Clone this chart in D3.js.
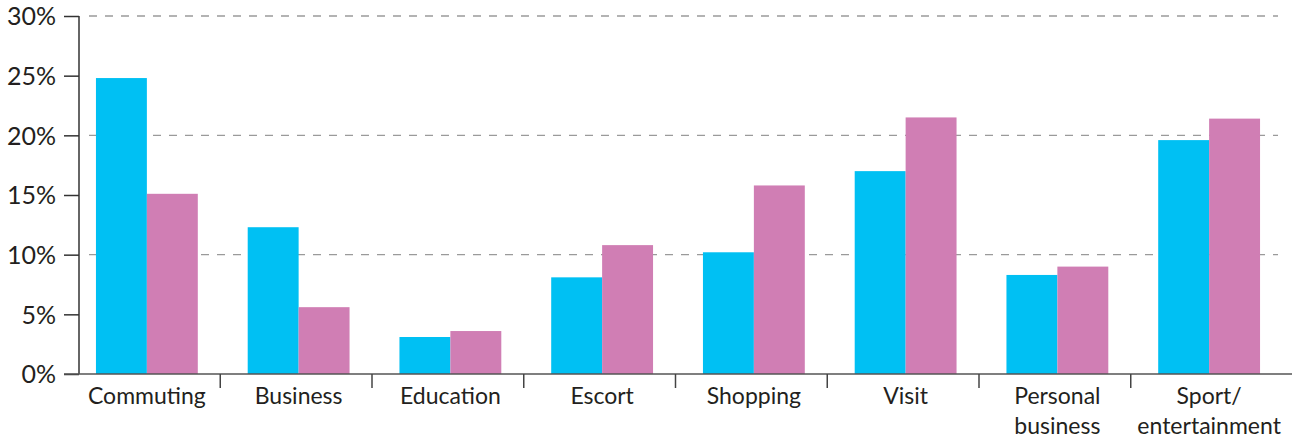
<!DOCTYPE html>
<html><head><meta charset="utf-8">
<script src="https://cdn.jsdelivr.net/npm/d3@7"></script>
<style>body{margin:0;background:#fff}svg{display:block}</style>
</head><body>
<svg id="c" width="1295" height="441"></svg>
<script>
const categories = ["Commuting","Business","Education","Escort","Shopping","Visit","Personal business","Sport/ entertainment"];
const categoryLines = [["Commuting"],["Business"],["Education"],["Escort"],["Shopping"],["Visit"],["Personal","business"],["Sport/","entertainment"]];
const seriesA = [24.8,12.3,3.1,8.1,10.2,17.0,8.3,19.6];
const seriesB = [15.1,5.6,3.6,10.8,15.8,21.5,9.0,21.4];
const yTicks = [0,5,10,15,20,25,30];
const gridTicks = [10,20,30];

const svg = d3.select("#c");
const font = "Lato, 'Open Sans', sans-serif";
const x0 = d3.scaleBand().domain(categories).range([71,1285]).paddingInner(0).paddingOuter(0);
const bw = x0.bandwidth();
const x1 = d3.scaleBand().domain(["a","b"]).range([0,bw]).paddingOuter(0.49).paddingInner(0);
const y = d3.scaleLinear().domain([0,30]).range([374,16]);

// grid
svg.append("g").selectAll("line").data(gridTicks).join("line")
  .attr("x1",89).attr("x2",1278).attr("y1",d=>y(d)).attr("y2",d=>y(d))
  .attr("stroke","#9a9a9a").attr("stroke-width",1.4).attr("stroke-dasharray","8,8");

// bars
const g = svg.append("g");
categories.forEach((c,i)=>{
  g.append("rect").attr("x",x0(c)+x1("a")).attr("width",x1.bandwidth())
    .attr("y",y(seriesA[i])).attr("height",y(0)-y(seriesA[i])).attr("fill","#00C0F3");
  g.append("rect").attr("x",x0(c)+x1("b")).attr("width",x1.bandwidth())
    .attr("y",y(seriesB[i])).attr("height",y(0)-y(seriesB[i])).attr("fill","#D07EB4");
});

// y axis
const yAxis = d3.axisLeft(y).tickValues(yTicks).tickFormat(d=>d+"%").tickSize(15).tickPadding(8);
const ya = svg.append("g").attr("transform","translate(79,0)").call(yAxis);
ya.select(".domain").attr("stroke","#333").attr("stroke-width",1.5).attr("d","M0,16V374");
ya.selectAll(".tick line").attr("stroke","#333").attr("stroke-width",1.5);
ya.selectAll(".tick text").attr("fill","#231f20").style("font-family",font).style("font-size","25px").attr("dy","0.35em");

// x axis line
svg.append("line").attr("x1",64).attr("x2",1292).attr("y1",374).attr("y2",374).attr("stroke","#555").attr("stroke-width",1.5);
// category boundary ticks
svg.append("g").selectAll("line").data(categories.slice(1)).join("line")
  .attr("x1",d=>x0(d)-2.5).attr("x2",d=>x0(d)-2.5).attr("y1",374).attr("y2",388)
  .attr("stroke","#444").attr("stroke-width",1.5);
// labels
const lab = svg.append("g").selectAll("text").data(categories).join("text")
  .attr("x",d=>x0(d)+bw/2).attr("y",404).attr("text-anchor","middle")
  .attr("fill","#231f20").style("font-family",font).style("font-size","23px");
lab.each(function(d,i){
  const t = d3.select(this);
  categoryLines[i].forEach((s,k)=>t.append("tspan").attr("x",x0(d)+bw/2).attr("dy",k===0?0:30).text(s));
});
</script>
</body></html>
